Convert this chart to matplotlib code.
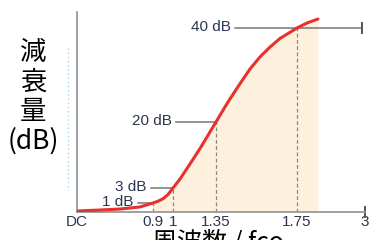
import numpy as np
import matplotlib
matplotlib.use("Agg")
import matplotlib.pyplot as plt
from matplotlib.lines import Line2D
from matplotlib.transforms import ScaledTranslation

# frequency (normalised to fco) and attenuation (dB)
freq = [0, 0.272, 0.509, 0.746, 0.9, 0.925, 0.95, 0.975, 1.0, 1.057, 1.138, 1.22, 1.301,
        1.35, 1.394, 1.419, 1.469, 1.518, 1.567, 1.617, 1.666, 1.75, 1.934, 2.136]
atten = [0.11, 0.22, 0.33, 0.56, 1.0, 1.24, 1.56, 2.13, 3.0, 5.32, 9.18, 13.17, 17.43,
         20.0, 23.19, 24.89, 28.19, 31.28, 33.83, 35.96, 37.77, 40.0, 41.06, 41.91]

tick_pos = [0, 0.9, 1, 1.35, 1.75, 3]
tick_lab = ["DC", "0.9", "1", "1.35", "1.75", "3"]

# marked levels: dB value, frequency where the curve hits it, where the guide starts
levels = [1, 3, 20, 40]
level_f = [0.9, 1.0, 1.35, 1.75]
guide_start = [0.72, 0.876, 1.026, 1.444]
guide_end = [0.9, 1.0, 1.35, 2.946]
level_lab = ["1 dB", "3 dB", "20 dB", "40 dB"]

# the drawing is schematic: piecewise axis spacing
fx = [0, 0.9, 1, 1.35, 1.75, 3]
px = [0, 76, 96, 139, 220, 288]
dbx = [0, 1, 3, 20, 40, 50]
dpx = [0, 9, 24, 90, 184, 231]

def xf(v): return np.interp(v, fx, px)
def xi(v): return np.interp(v, px, fx)
def yf(v): return np.interp(v, dbx, dpx)
def yi(v): return np.interp(v, dpx, dbx)

fig = plt.figure(figsize=(3.7, 2.4), dpi=100)
ax = fig.add_axes([77/370, 1-212/240, 288/370, 200/240])
ax.set_xscale("function", functions=(xf, xi))
ax.set_yscale("function", functions=(yf, yi))
ax.set_xlim(0, 3)
ax.set_ylim(0, 43.4)

f = np.array(freq)
a = np.array(atten)
ax.fill_between(f, 0, a, where=f >= 0.9, color="#fdf0dc", lw=0, zorder=1)

for i in range(len(levels)):
    ax.plot([level_f[i], level_f[i]], [0, levels[i]], color="#888888", lw=0.9,
            ls=(0, (3, 2)), zorder=2)
    ax.plot([guide_start[i], guide_end[i]], [levels[i], levels[i]], color="#777777",
            lw=1.1, zorder=2)
    ax.annotate(level_lab[i], (guide_start[i], levels[i]), xytext=(-3, 1),
                textcoords="offset points", ha="right", va="center",
                fontsize=11, color="#2b3550", family="Liberation Sans")

ax.plot([guide_end[-1]], [40], marker="|", ms=8, mew=1.4, color="#555555")
ax.plot([3], [0], marker="|", ms=8, mew=1.4, color="#555555", clip_on=False)

ax.plot(f, a, color="#e8312f", lw=2.2, solid_joinstyle="round",
        solid_capstyle="round", zorder=3)

ax.set_xticks(tick_pos)
ax.set_xticklabels(tick_lab, fontsize=11, color="#2b3550", family="Liberation Sans")
dc = ax.get_xticklabels()[0]
dc.set_transform(dc.get_transform() + ScaledTranslation(6/100, 0, fig.dpi_scale_trans))
ax.set_yticks([])
ax.tick_params(axis="x", length=0, pad=2)
for s in ["top", "right"]:
    ax.spines[s].set_visible(False)
for s in ["left", "bottom"]:
    ax.spines[s].set_color("#999999")
    ax.spines[s].set_linewidth(1.3)

fig.add_artist(Line2D([68/370, 68/370], [1-48/240, 1-190/240], color="#a8d4ee",
                      lw=1, ls=(0, (1, 2))))

fig.text(33/370, 1-97/240, "減\n衰\n量\n(dB)", ha="center", va="center",
         fontsize=19, linespacing=1.12, family=["Noto Sans CJK JP", "DejaVu Sans"])
fig.text(218/370, 1-229/240, "周波数 / fco", ha="center", va="top",
         fontsize=18, family=["Noto Sans CJK JP", "DejaVu Sans"])

fig.savefig("out.png", dpi=100)
